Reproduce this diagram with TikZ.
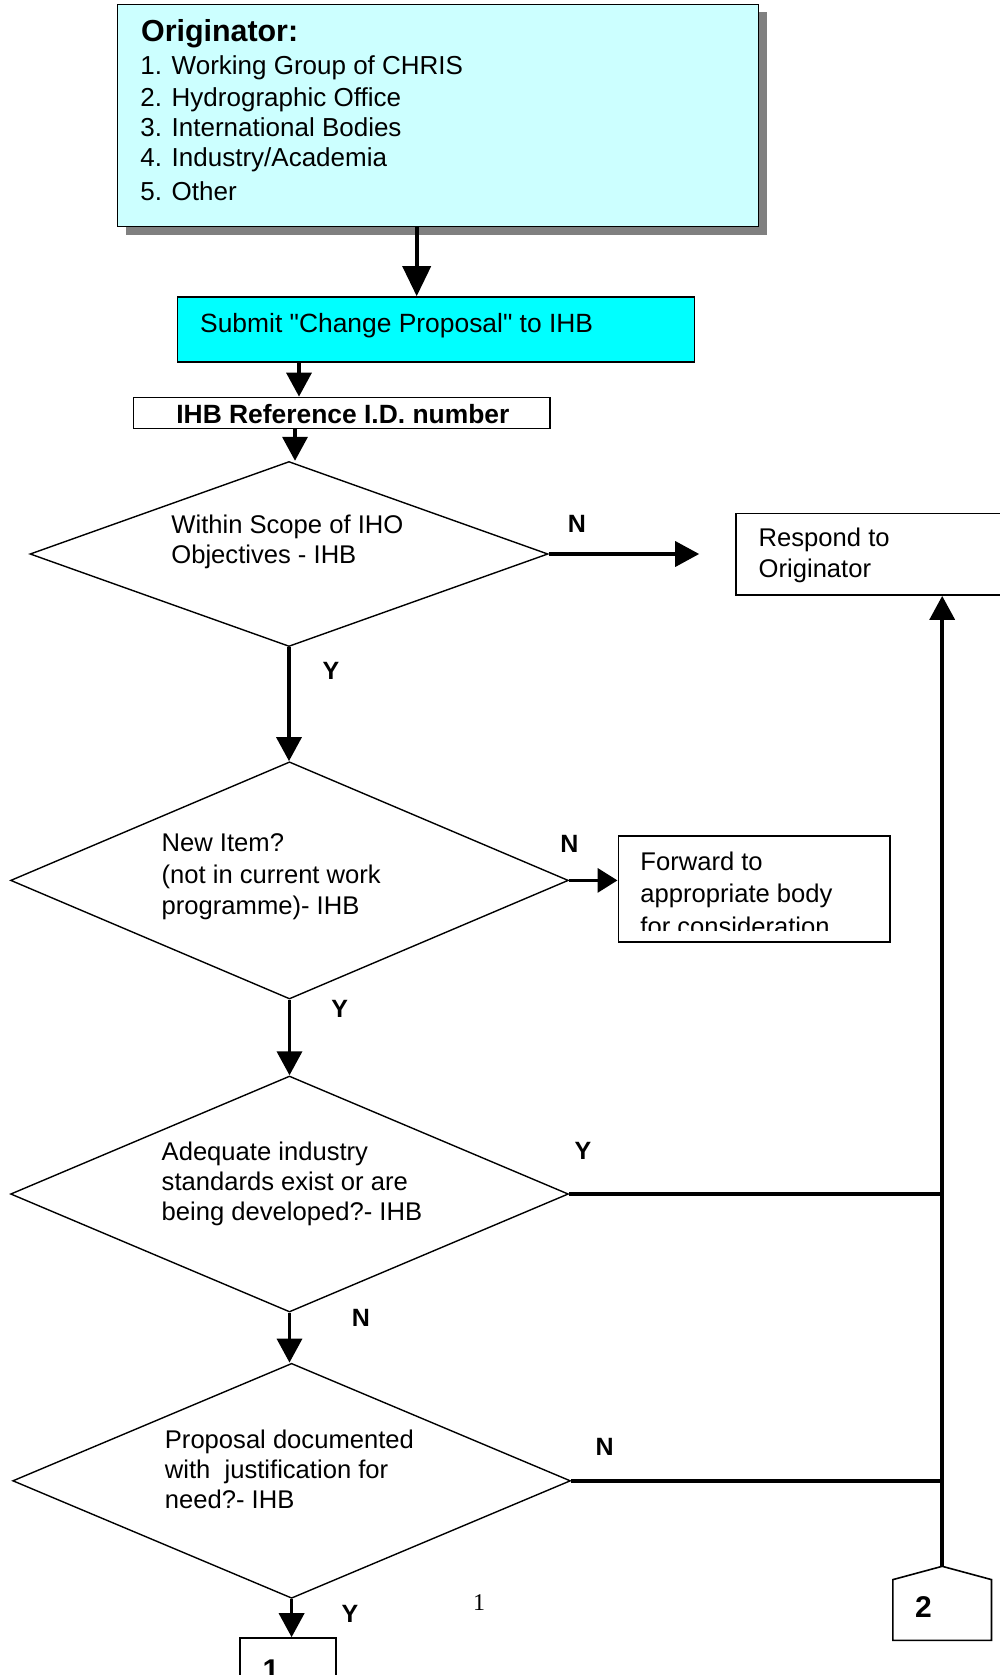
\documentclass[tikz,border=0pt]{standalone}
\usepackage{fontspec}
\setmainfont{Liberation Sans}[Ligatures=TeXOff]
\newfontfamily\pagenofont{Liberation Serif}
\usetikzlibrary{arrows.meta,shapes.geometric,calc}
\definecolor{origcyan}{HTML}{CCFFFF}
\definecolor{submitcyan}{HTML}{00FFFF}
\definecolor{shadowgrey}{HTML}{808080}

\begin{document}
\begin{tikzpicture}[x=0.5pt,y=0.5pt,yscale=-1,
  box/.style={draw, line width=0.8pt, inner sep=0pt},
  decision/.style={diamond, draw, line width=0.7pt, inner sep=0pt},
  txt/.style={anchor=base west, inner sep=0pt, align=left, font=\fontsize{12.8}{15}\selectfont},
  yn/.style={inner sep=0pt, font=\bfseries\fontsize{12.5}{15}\selectfont},
  flow/.style={line width=1.8pt},
  arr/.style={flow, -{Triangle[length=12pt,width=12.5pt]}}]
\clip (0,0) rectangle (1000,1675);

%Originator box with its shadow
\fill[shadowgrey] (125.5,12.3) rectangle (766.6,234.5);
\node[box, fill=origcyan, minimum width=320.5pt, minimum height=111pt] (orig) at (438,115.4) {};
% Text Node (multi-line texts are placed by their last baseline)
\node[txt, font=\bfseries\fontsize{15.2}{18}\selectfont] (origtitle) at (140.7,41.7) {Originator:};
\node[txt, font=\fontsize{13}{15}\selectfont] (origlist) at (140,200) {1. Working Group of CHRIS\\[1pt]2. Hydrographic Office\\3. International Bodies\\4. Industry/Academia\\[2pt]5. Other};

%Submit and reference boxes
\node[box, fill=submitcyan, minimum width=258.5pt, minimum height=32.6pt] (sub) at (436,329.6) {};
\node[txt, font=\fontsize{13.2}{15}\selectfont] (subtext) at (199.8,332.5) {Submit "Change Proposal" to IHB};
\node[box, minimum width=208.35pt, minimum height=15.5pt] (ref) at (341.9,412.9) {};
\node[txt, font=\bfseries\fontsize{13.2}{15}\selectfont] (reftext) at (176,423) {IHB Reference I.D. number};

%Decisions
\node[decision, minimum width=259pt, minimum height=92.5pt] (d1) at (289,554) {};
\node[txt] (d1text) at (171,563.3) {Within Scope of IHO\\Objectives - IHB};
\node[decision, minimum width=278.9pt, minimum height=118.6pt] (d2) at (289.5,880.4) {};
\node[txt, font=\fontsize{12.8}{15.75}\selectfont] (d2text) at (161.3,914.5) {New Item?\\(not in current work\\programme)- IHB};
\node[decision, minimum width=278.9pt, minimum height=118pt] (d3) at (289.5,1194) {};
\node[txt] (d3text) at (161.3,1220) {Adequate industry\\standards exist or are\\being developed?- IHB};
\node[decision, minimum width=278.9pt, minimum height=117.5pt] (d4) at (291.6,1480.8) {};
\node[txt] (d4text) at (164.5,1508.3) {Proposal documented\\with\ \ justification for\\need?- IHB};

%Outcome boxes
\node[box, minimum width=137pt, minimum height=40.9pt] (resp) at (873,554.2) {};
\node[txt, font=\fontsize{12.8}{15.5}\selectfont] (resptext) at (758.3,577.7) {Respond to\\Originator};
\node[box, minimum width=135.9pt, minimum height=52.9pt] (fwd) at (754.2,888.9) {};
\begin{scope}
\clip (fwd.north west) rectangle ($(fwd.south east)+(0,-12.4)$);
\node[txt, font=\fontsize{12.8}{16.3}\selectfont] (fwdtext) at (640,935.2) {Forward to\\appropriate body\\for consideration};
\end{scope}

%Connectors to other pages
\node[box, minimum width=48pt, minimum height=29pt] (box1) at (288,1667) {};
\node[anchor=base, inner sep=0pt, font=\bfseries\fontsize{15}{18}\selectfont] (box1num) at (271,1680) {1};
\node[inner sep=0pt, minimum width=48.9pt, minimum height=30pt] (c2) at (942.2,1610) {};
\coordinate (c2top) at ($(c2.north)+(0,-13.3)$);
\draw[line width=0.8pt] (c2.north west) -- (c2top) -- (c2.north east) -- (c2.south east) -- (c2.south west) -- cycle;
\node[inner sep=0pt, font=\bfseries\fontsize{15}{18}\selectfont] (c2num) at (923.5,1607.5) {2};

%Arrows down the main column
\coordinate (o1) at ($(orig.south)+(-21.3,0)$);
\draw[flow, -{Triangle[length=15pt,width=14pt]}] (o1) -- (o1 |- sub.north);
\coordinate (s1) at ($(sub.south)+(-137,0)$);
\draw[arr] (s1) -- (s1 |- ref.north);
\coordinate (r1) at ($(ref.south)+(-46.9,0)$);
\draw[arr] (r1) -- (r1 |- d1.north);
\draw[arr] (d1.south) -- (d1.south |- d2.north);
\draw[arr] (d2.south) -- (d2.south |- d3.north);
\draw[arr] (d3.south) -- (d3.south |- d4.north);
\draw[arr] (d4.south) -- (d4.south |- box1.north);

%Side branches
\draw[arr] (d1.east) -- ($(d1.east -| resp.west)+(-36,0)$);
\draw[flow, -{Triangle[length=10pt,width=12pt]}] (d2.east) -- (d2.east -| fwd.west);
\draw[flow] (d3.east) -- (d3.east -| c2top);
\draw[flow] (d4.east) -- (d4.east -| c2top);
\draw[arr] (c2top) -- (c2top |- resp.south);

% Text Node
\node[yn] (n1) at (577,524) {N};
\node[yn] (y1) at (331,671) {Y};
\node[yn] (n2) at (569.5,844) {N};
\node[yn] (y2) at (339.8,1008.6) {Y};
\node[yn] (y3) at (583,1150.7) {Y};
\node[yn] (n3) at (361,1317.4) {N};
\node[yn] (n4) at (604.7,1446.6) {N};
\node[yn] (y4) at (350,1614) {Y};
\node[inner sep=0pt, font=\pagenofont\fontsize{12}{14}\selectfont] (pageno) at (479,1603) {1};
\end{tikzpicture}
\end{document}
